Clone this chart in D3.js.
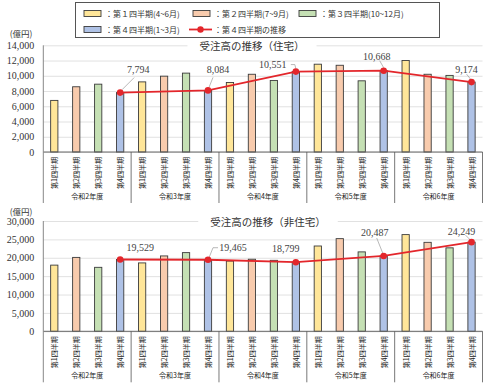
<!DOCTYPE html>
<html>
<head>
<meta charset="utf-8">
<script src="https://cdn.jsdelivr.net/npm/d3@7"></script>
<style>
  body { margin: 0; background: #fff; }
  svg { display: block; }
</style>
</head>
<body>
<div id="chart"></div>
<script>
// Données
const years = ["令和2年度", "令和3年度", "令和4年度", "令和5年度", "令和6年度"];
const quarters = ["第1四半期", "第2四半期", "第3四半期", "第4四半期"];
const legendLabels = ["：第１四半期(4~6月)", "：第２四半期(7~9月)", "：第３四半期(10~12月)", "：第４四半期(1~3月)", "：第４四半期の推移"];

// 住宅
const housingQ1 = [6770, 9200, 9120, 11520, 12000];
const housingQ2 = [8560, 9950, 10200, 11380, 10200];
const housingQ3 = [8900, 10350, 9390, 9340, 10050];
const housingQ4 = [7794, 8084, 10551, 10668, 9174];
const housingTicks = [0, 2000, 4000, 6000, 8000, 10000, 12000, 14000];

// 非住宅
const nonHousingQ1 = [18000, 18600, 19100, 23200, 26300];
const nonHousingQ2 = [20100, 20500, 19600, 25200, 24200];
const nonHousingQ3 = [17400, 21400, 19300, 21600, 22700];
const nonHousingQ4 = [19529, 19465, 18799, 20487, 24249];
const nonHousingTicks = [0, 5000, 10000, 15000, 20000, 25000, 30000];

const colors = ["#FFE699", "#F8CBAD", "#C5E0B4", "#AFC2E6"];
const red = "#E3262B";
const jp = "'Noto Sans CJK JP', 'Noto Sans', sans-serif";
const num = "'Liberation Serif', 'DejaVu Serif', serif";

const width = 500, height = 385;
const left = 43.3, right = 482.5;

const svg = d3.select("#chart").append("svg")
    .attr("width", width)
    .attr("height", height);

svg.append("rect").attr("width", width).attr("height", height).attr("fill", "#fff");

// clés année-trimestre
const keys = [];
years.forEach((yr, i) => quarters.forEach((q, j) => keys.push(i + "-" + j)));

const x = d3.scaleBand().domain(keys).range([left, right]).padding(0);
const barW = x.bandwidth() * 0.33;

function drawPanel(cfg) {
    const y = d3.scaleLinear().domain([0, cfg.max]).range([cfg.y0, cfg.yTop]);
    const g = svg.append("g");

    // grille + graduations
    const axis = d3.axisLeft(y)
        .tickValues(cfg.ticks)
        .tickSize(-(right - left))
        .tickPadding(9)
        .tickFormat(d3.format(","));
    const ga = g.append("g").attr("transform", `translate(${left},0)`).call(axis);
    ga.select(".domain").remove();
    ga.selectAll("line").attr("stroke", "#d9d9d9").attr("stroke-width", 0.8);
    ga.selectAll("text")
        .attr("font-family", num)
        .attr("font-size", 10)
        .attr("fill", "#333");

    // titre avec fond blanc
    const titleBg = g.append("rect").attr("fill", "#fff");
    const title = g.append("text")
        .attr("x", cfg.titleX)
        .attr("y", cfg.yTop)
        .attr("text-anchor", "middle")
        .attr("dominant-baseline", "central")
        .attr("font-family", jp)
        .attr("font-size", 10.5)
        .attr("fill", "#333")
        .text(cfg.title);
    const bb = title.node().getBBox();
    titleBg.attr("x", bb.x - 12).attr("y", bb.y)
        .attr("width", bb.width + 24).attr("height", bb.height);

    // barres
    const rows = [];
    cfg.series.forEach((s, j) => s.forEach((v, i) => rows.push({ key: i + "-" + j, q: j, v: v })));
    g.selectAll("rect.bar")
        .data(rows)
        .enter()
        .append("rect")
        .attr("class", "bar")
        .attr("x", d => x(d.key) + (x.bandwidth() - barW) / 2)
        .attr("y", d => y(d.v))
        .attr("width", barW)
        .attr("height", d => y(0) - y(d.v))
        .attr("fill", d => colors[d.q])
        .attr("stroke", "#3b3b3b")
        .attr("stroke-width", 0.9);

    // axes
    const bottom = cfg.y0 + 51;
    g.append("line")
        .attr("x1", left).attr("x2", right).attr("y1", cfg.y0).attr("y2", cfg.y0)
        .attr("stroke", "#666").attr("stroke-width", 1);
    g.append("line")
        .attr("x1", left).attr("x2", left).attr("y1", cfg.yTop).attr("y2", bottom)
        .attr("stroke", "#888").attr("stroke-width", 1);
    const dividers = years.map((yr, i) => x(i + "-0")).slice(1).concat([right]);
    g.selectAll("line.div")
        .data(dividers)
        .enter()
        .append("line")
        .attr("class", "div")
        .attr("x1", d => d).attr("x2", d => d)
        .attr("y1", cfg.y0).attr("y2", bottom)
        .attr("stroke", "#555").attr("stroke-width", 0.8);

    // libellés trimestres (verticaux)
    g.selectAll("text.cat")
        .data(keys)
        .enter()
        .append("text")
        .attr("class", "cat")
        .attr("transform", d => `translate(${x(d) + x.bandwidth() / 2},${cfg.y0 + 21}) rotate(-90)`)
        .attr("text-anchor", "middle")
        .attr("dominant-baseline", "central")
        .attr("font-family", jp)
        .attr("font-size", 7)
        .attr("fill", "#222")
        .text(d => quarters[+d.split("-")[1]]);

    // libellés années
    g.selectAll("text.year")
        .data(years)
        .enter()
        .append("text")
        .attr("class", "year")
        .attr("x", (d, i) => x(i + "-1") + x.bandwidth())
        .attr("y", cfg.y0 + 46.5)
        .attr("text-anchor", "middle")
        .attr("font-family", jp)
        .attr("font-size", 7)
        .attr("fill", "#222")
        .text(d => d);

    // unité
    g.append("text")
        .attr("x", 21).attr("y", cfg.unitY)
        .attr("text-anchor", "middle")
        .attr("dominant-baseline", "central")
        .attr("font-family", jp)
        .attr("font-size", 8.5)
        .attr("fill", "#333")
        .text("(億円)");

    // courbe du 4e trimestre
    const q4 = cfg.series[3].map((v, i) => ({ key: i + "-3", v: v }));
    const cx = d => x(d.key) + x.bandwidth() / 2;
    const line = d3.line().x(cx).y(d => y(d.v));
    g.append("path")
        .datum(q4)
        .attr("d", line)
        .attr("fill", "none")
        .attr("stroke", red)
        .attr("stroke-width", 1.8);

    // lignes de rappel
    q4.forEach((d, i) => {
        const o = cfg.leaders[i];
        if (!o) return;
        g.append("path")
            .attr("d", d3.line()(o.map(p => [cx(d) + p[0], y(d.v) + p[1]])))
            .attr("fill", "none")
            .attr("stroke", "#999")
            .attr("stroke-width", 0.7);
    });

    g.selectAll("circle.pt")
        .data(q4)
        .enter()
        .append("circle")
        .attr("class", "pt")
        .attr("cx", cx)
        .attr("cy", d => y(d.v))
        .attr("r", 3.3)
        .attr("fill", red);

    g.selectAll("text.val")
        .data(q4)
        .enter()
        .append("text")
        .attr("class", "val")
        .attr("x", (d, i) => cx(d) + cfg.labelOffsets[i][0])
        .attr("y", (d, i) => y(d.v) + cfg.labelOffsets[i][1])
        .attr("text-anchor", "middle")
        .attr("dominant-baseline", "central")
        .attr("font-family", num)
        .attr("font-size", 10)
        .attr("fill", "#444")
        .text(d => d3.format(",")(d.v));
}

drawPanel({
    title: "受注高の推移（住宅）",
    titleX: 252,
    max: 14000,
    ticks: housingTicks,
    y0: 152,
    yTop: 45.3,
    unitY: 33,
    series: [housingQ1, housingQ2, housingQ3, housingQ4],
    labelOffsets: [[18, -23], [10, -21], [-23, -7], [-7, -14], [-5, -13]],
    leaders: [
        [[2, -3], [14, -15]],
        [[1, -3], [5, -13]],
        [[0, -3], [-1, -7], [-5, -7]],
        [[0, -3], [-4, -10]],
        [[-1, -3], [-5, -8]]
    ]
});

drawPanel({
    title: "受注高の推移（非住宅）",
    titleX: 268,
    max: 30000,
    ticks: nonHousingTicks,
    y0: 331.3,
    yTop: 221,
    unitY: 211,
    series: [nonHousingQ1, nonHousingQ2, nonHousingQ3, nonHousingQ4],
    labelOffsets: [[20, -12], [25, -12], [-10, -14], [-9, -23], [-10, -11]],
    leaders: [
        null,
        [[1, -2], [5, -12], [10, -12]],
        null,
        [[-1, -3], [-7, -18]],
        [[-1, -2], [-6, -7]]
    ]
});

// légende
const lg = svg.append("g");
lg.append("rect")
    .attr("x", 75.5).attr("y", 2.5)
    .attr("width", 364).attr("height", 35)
    .attr("fill", "#fff")
    .attr("stroke", "#555")
    .attr("stroke-width", 1);

const legendPos = [[84, 13.5], [193, 13.5], [299, 13.5], [84, 29.5]];
legendPos.forEach((p, i) => {
    lg.append("rect")
        .attr("x", p[0]).attr("y", p[1] - 3)
        .attr("width", 17).attr("height", 6)
        .attr("fill", colors[i])
        .attr("stroke", "#3b3b3b")
        .attr("stroke-width", 0.9);
    lg.append("text")
        .attr("x", p[0] + 21).attr("y", p[1])
        .attr("dominant-baseline", "central")
        .attr("font-family", jp)
        .attr("font-size", 8)
        .attr("fill", "#333")
        .text(legendLabels[i]);
});
lg.append("line")
    .attr("x1", 189).attr("x2", 212).attr("y1", 29.5).attr("y2", 29.5)
    .attr("stroke", red).attr("stroke-width", 1.8);
lg.append("circle").attr("cx", 200.5).attr("cy", 29.5).attr("r", 3.2).attr("fill", red);
lg.append("text")
    .attr("x", 214).attr("y", 29.5)
    .attr("dominant-baseline", "central")
    .attr("font-family", jp)
    .attr("font-size", 8)
    .attr("fill", "#333")
    .text(legendLabels[4]);
</script>
</body>
</html>
